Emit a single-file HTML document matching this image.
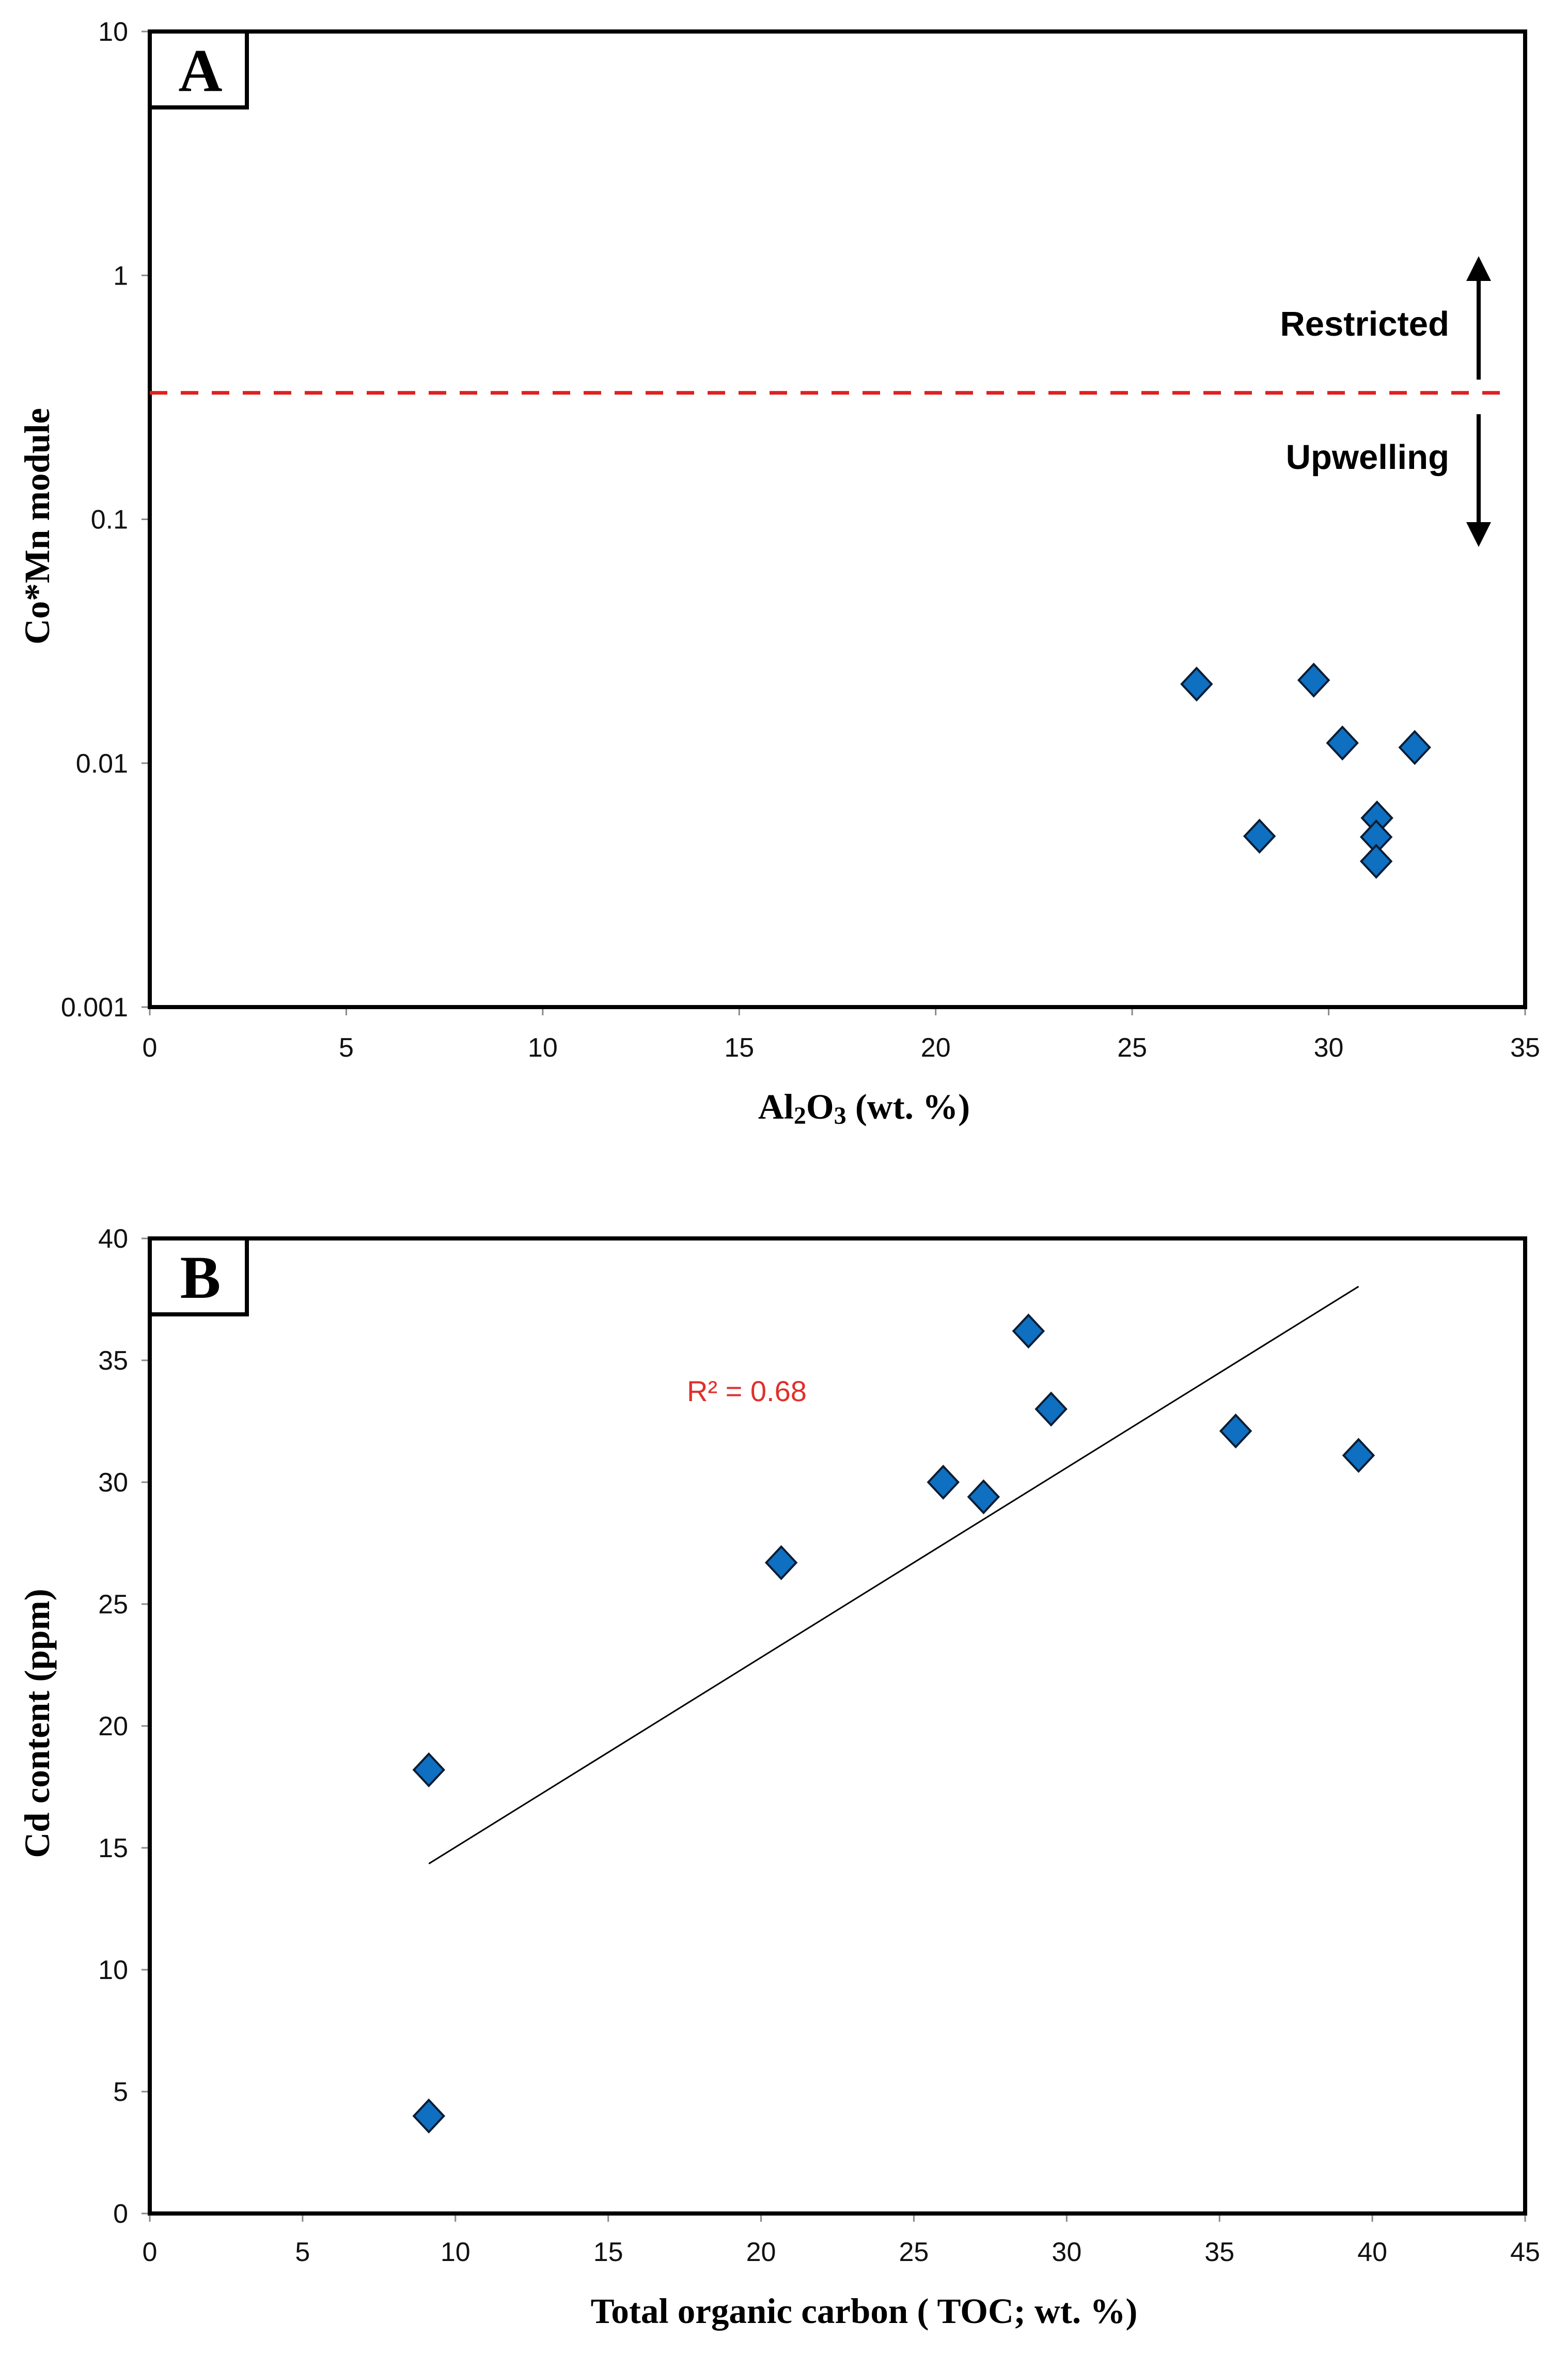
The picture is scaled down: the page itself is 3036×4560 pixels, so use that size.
<!DOCTYPE html>
<html><head><meta charset="utf-8"><style>
html,body{margin:0;padding:0;background:#fff;}
svg{display:block;}
</style></head><body>
<svg id="fig" xmlns="http://www.w3.org/2000/svg" width="3036" height="4560" viewBox="0 0 3036 4560">
<rect width="3036" height="4560" fill="#fff"/>
<g id="A"></g>
<g id="B"></g>
</svg>
<script>
// Panel A data
const aXTicks = [0,5,10,15,20,25,30,35];
const aYTicks = [10,1,0.1,0.01,0.001];
const aYTickLabels = ["10","1","0.1","0.01","0.001"];
const aAl2O3 = [26.64,29.62,30.35,32.19,28.24,31.23,31.21,31.21];
const aCoMn = [0.0211,0.0219,0.0121,0.0116,0.00502,0.00596,0.00498,0.00396];
const aThreshold = [0.33];
// Panel B data
const bXTicks = [0,5,10,15,20,25,30,35,40,45];
const bYTicks = [0,5,10,15,20,25,30,35,40];
const bTOC = [9.13,9.13,20.66,25.96,27.28,28.75,29.49,35.53,39.55];
const bCd = [18.2,4.0,26.7,30.0,29.4,36.2,33.0,32.1,31.1];
const bR2 = ["R² = 0.68"];

const NS="http://www.w3.org/2000/svg";
function mk(parent,tag,attrs,text){const e=document.createElementNS(NS,tag);for(const k in attrs)e.setAttribute(k,attrs[k]);if(text!==undefined)e.textContent=text;parent.appendChild(e);return e;}

const L=290,R=2953;
const aT=61,aB=1950;
const ax=v=>L+(v-0)/(35-0)*(R-L);
const ay=v=>aT+(Math.log10(10)-Math.log10(v))/4*(aB-aT);
const bT=2398,bB=4286;
const bx=v=>L+v/45*(R-L);
const by=v=>bB-v/40*(bB-bT);

function axes(g,T,B,xt,xlab,yt,ylab,fx,fy,xLabY){
  xt.forEach((v,i)=>{
    const t=mk(g,'line',{x1:fx(v),x2:fx(v),y1:B,y2:B+16,stroke:'#888','stroke-width':3});
    
    
    const l=mk(g,'text',{x:fx(v),y:xLabY,'text-anchor':'middle','font-family':'Liberation Sans, sans-serif','font-size':52,fill:'#111'},xlab[i]);
    
    
  });
  yt.forEach((v,i)=>{
    const t=mk(g,'line',{x1:L-16,x2:L,y1:fy(v),y2:fy(v),stroke:'#888','stroke-width':3});
    
    
    const l=mk(g,'text',{x:L-42,y:fy(v)+18,'text-anchor':'end','font-family':'Liberation Sans, sans-serif','font-size':52,fill:'#111'},ylab[i]);
    
    
  });
  const f=mk(g,'rect',{x:L,y:T,width:R-L,height:B-T,fill:'none',stroke:'#000','stroke-width':8});
  
  
}
function box(g,T,letter){
  const r=mk(g,'rect',{x:L,y:T,width:188,height:147,fill:'#fff',stroke:'#000','stroke-width':8});
  
  
  const t=mk(g,'text',{x:L+98,y:T+115,'text-anchor':'middle','font-family':'Liberation Serif, serif','font-weight':'bold','font-size':118,fill:'#000'},letter);
  
  
}
function diamond(g,cx,cy){
  const p=mk(g,'polygon',{points:`${cx},${cy-31} ${cx+29},${cy} ${cx},${cy+31} ${cx-29},${cy}`,fill:'#0f6fc0',stroke:'#0a1d33','stroke-width':4});
  
  
}

// ---- Panel A ----
const A=document.getElementById('A');
axes(A,aT,aB,aXTicks,aXTicks.map(String),aYTicks,aYTickLabels,ax,ay,2046);
const dl=mk(A,'line',{x1:L,x2:2905,y1:ay(aThreshold[0]),y2:ay(aThreshold[0]),stroke:'#e02020','stroke-width':7,'stroke-dasharray':'34 26'});


mk(A,'defs',{}).innerHTML='<marker id="ah" markerWidth="6" markerHeight="6" refX="3" refY="3" orient="auto" markerUnits="strokeWidth"><path d="M0,0 L6,3 L0,6 z" fill="#000"/></marker>';
const au=mk(A,'line',{x1:2863,x2:2863,y1:735,y2:520,stroke:'#000','stroke-width':8,'marker-end':'url(#ah)'});


const ad=mk(A,'line',{x1:2863,x2:2863,y1:802,y2:1035,stroke:'#000','stroke-width':8,'marker-end':'url(#ah)'});


const tr=mk(A,'text',{x:2806,y:650,'text-anchor':'end','font-family':'Liberation Sans, sans-serif','font-weight':'bold','font-size':67,fill:'#000'},'Restricted');


const tu=mk(A,'text',{x:2806,y:908,'text-anchor':'end','font-family':'Liberation Sans, sans-serif','font-weight':'bold','font-size':67,fill:'#000'},'Upwelling');


aAl2O3.forEach((v,i)=>diamond(A,ax(v),ay(aCoMn[i])));
box(A,aT,'A');
const axt=mk(A,'text',{x:1673,y:2166,'text-anchor':'middle','font-family':'Liberation Serif, serif','font-weight':'bold','font-size':69,fill:'#000'});
axt.innerHTML='Al<tspan font-size="48" dy="10">2</tspan><tspan dy="-10">O</tspan><tspan font-size="48" dy="10">3</tspan><tspan dy="-10"> (wt. %)</tspan>';


const ayt=mk(A,'text',{x:0,y:0,transform:'translate(95,1019) rotate(-90)','text-anchor':'middle','font-family':'Liberation Serif, serif','font-weight':'bold','font-size':69,fill:'#000'},'Co*Mn module');



// ---- Panel B ----
const B=document.getElementById('B');
axes(B,bT,bB,bXTicks,bXTicks.map(String),bYTicks,bYTicks.map(String),bx,by,4378);
const n=bTOC.length;const mx=bTOC.reduce((a,b)=>a+b)/n,my=bCd.reduce((a,b)=>a+b)/n;
let sxy=0,sxx=0;bTOC.forEach((x,i)=>{sxy+=(x-mx)*(bCd[i]-my);sxx+=(x-mx)*(x-mx);});
const sl=sxy/sxx,ic=my-sl*mx;const x0=Math.min(...bTOC),x1=Math.max(...bTOC);
const tl=mk(B,'line',{x1:bx(x0),y1:by(ic+sl*x0),x2:bx(x1),y2:by(ic+sl*x1),stroke:'#000','stroke-width':3});


bTOC.forEach((v,i)=>diamond(B,bx(v),by(bCd[i])));
const r2=mk(B,'text',{x:1330,y:2713,'font-family':'Liberation Sans, sans-serif','font-size':56,fill:'#e0302a'},bR2[0]);


box(B,bT,'B');
const bxt=mk(B,'text',{x:1673,y:4498,'text-anchor':'middle','font-family':'Liberation Serif, serif','font-weight':'bold','font-size':69,fill:'#000'},'Total organic carbon ( TOC; wt. %)');


const byt=mk(B,'text',{x:0,y:0,transform:'translate(95,3337) rotate(-90)','text-anchor':'middle','font-family':'Liberation Serif, serif','font-weight':'bold','font-size':69,fill:'#000'},'Cd content (ppm)');


</script>
</body></html>
